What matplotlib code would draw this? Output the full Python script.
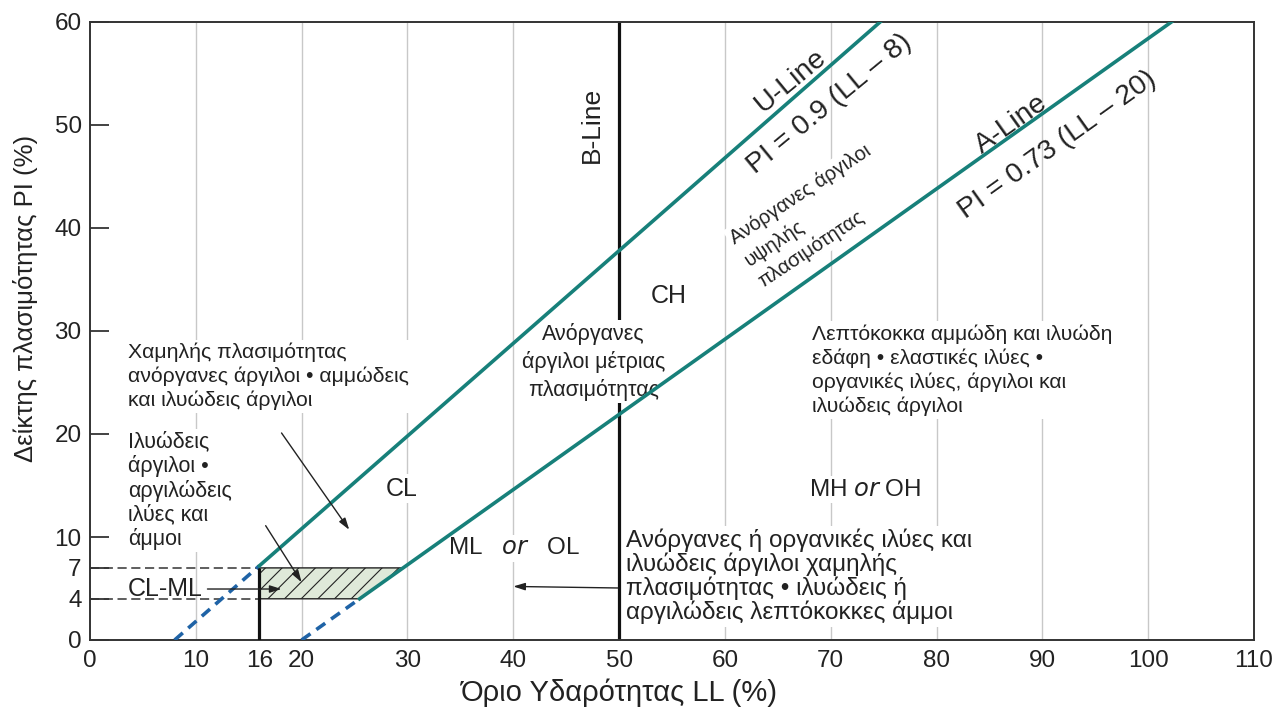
import numpy as np
import matplotlib.pyplot as plt
from matplotlib.patches import Polygon

plt.rcParams['font.family'] = ['Liberation Sans', 'DejaVu Sans']
plt.rcParams['hatch.linewidth'] = 0.8

# chart limits and ticks
ll_max, pi_max = 110, 60
x_ticks = [0, 10, 16, 20, 30, 40, 50, 60, 70, 80, 90, 100, 110]
y_ticks = [0, 4, 7, 10, 20, 30, 40, 50, 60]
grid_ll = [10, 20, 30, 40, 50, 60, 70, 80, 90, 100]

# line definitions: PI = slope * (LL - offset)
u_slope, u_offset = 0.9, 8
a_slope, a_offset = 0.73, 20
b_line_ll = 50
clml_ll = 16
clml_low, clml_high = 4, 7

teal = '#17807a'
blue = '#1f63a6'
ink = '#222222'


def u_pi(ll):
    return u_slope * (np.asarray(ll) - u_offset)


def a_pi(ll):
    return a_slope * (np.asarray(ll) - a_offset)


def a_ll(pi):
    return a_offset + np.asarray(pi) / a_slope


fig = plt.figure(figsize=(12.77, 7.11), dpi=100)
ax = fig.add_axes([90 / 1277, 71 / 711, 1164 / 1277, 618 / 711])
ax.set_xlim(0, ll_max)
ax.set_ylim(0, pi_max)

# light vertical grid
ax.vlines(grid_ll, 0, pi_max, color='#c8c8c8', lw=1, zorder=1)

# B-line
ax.vlines(b_line_ll, 0, pi_max, color='#111111', lw=2.3, zorder=2)

# U-line: dashed below LL=16, solid above
u_top = u_offset + pi_max / u_slope
ax.plot([u_offset, clml_ll], u_pi([u_offset, clml_ll]), color=blue, lw=2.6,
        ls=(0, (3, 2)), zorder=4)
ax.plot([clml_ll, u_top], u_pi([clml_ll, u_top]), color=teal, lw=2.6, zorder=4)

# A-line: dashed below PI=4, solid above
a_top = a_ll(pi_max)
a_4 = a_ll(clml_low)
ax.plot([a_offset, a_4], a_pi([a_offset, a_4]), color=blue, lw=2.6,
        ls=(0, (3, 2)), zorder=4)
ax.plot([a_4, a_top], a_pi([a_4, a_top]), color=teal, lw=2.6, zorder=4)

# CL-ML hatched zone
zone = Polygon([[clml_ll, clml_low], [a_4, clml_low],
                [a_ll(clml_high), clml_high], [clml_ll, clml_high]],
               closed=True, facecolor='#dfe9d9', edgecolor='#222222',
               lw=1.0, hatch='//', zorder=3)
ax.add_patch(zone)
ax.plot([0, clml_ll], [clml_high, clml_high], color='#333333', lw=1.1,
        ls=(0, (6, 3)), zorder=3)
ax.plot([0, clml_ll], [clml_low, clml_low], color='#333333', lw=1.1,
        ls=(0, (6, 3)), zorder=3)
ax.vlines(clml_ll, 0, clml_high, color='#111111', lw=2.3, zorder=4)

# axes styling
for s in ax.spines.values():
    s.set_color('#333333')
    s.set_linewidth(1.4)
ax.set_xticks(x_ticks)
ax.set_yticks(y_ticks)
ax.tick_params(axis='x', length=0, labelsize=17.5, pad=7, colors=ink)
ax.tick_params(axis='y', direction='in', length=14, width=1.2,
               labelsize=17.5, pad=6, colors=ink)
ax.set_xlabel('Όριο Υδαρότητας LL (%)', fontsize=21, color=ink)
ax.xaxis.set_label_coords(0.455, -0.062)
ax.set_ylabel('Δείκτης πλασιμότητας PI (%)', fontsize=18.5, color=ink)
ax.yaxis.set_label_coords(-0.045, 0.553)

box = dict(facecolor='white', edgecolor='none', pad=2)
kw = dict(color=ink, zorder=3, bbox=box)

# line labels
ax.text(47.4, 50.0, 'B-Line', rotation=90, fontsize=19, ha='center',
        va='center', color=ink, zorder=3)
ax.text(66.2, 54.3, 'U-Line', rotation=39.5, fontsize=20.5, ha='center',
        va='center', color=ink, zorder=5)
ax.text(69.9, 52.0, 'PI = 0.9 (LL – 8)', rotation=39.5, fontsize=20.5,
        ha='center', va='center', color=ink, zorder=5)
ax.text(87.1, 50.1, 'A-Line', rotation=35.5, fontsize=20.5, ha='center',
        va='center', color=ink, zorder=5)
ax.text(91.4, 48.1, 'PI = 0.73 (LL – 20)', rotation=35.5, fontsize=20.5,
        ha='center', va='center', color=ink, zorder=5)

# high plasticity clay note, anchored at the start of its last line
ax.text(63.3, 34.7, 'Ανόργανες άργιλοι\nυψηλής\nπλασιμότητας', rotation=33.5,
        rotation_mode='anchor', fontsize=14.5, ha='left', va='baseline',
        multialignment='left', linespacing=1.4, **kw)

# zone labels
ax.text(54.7, 33.4, 'CH', fontsize=18, ha='center', va='center', **kw)
ax.text(47.6, 27.0, 'Ανόργανες\nάργιλοι μέτριας\nπλασιμότητας', fontsize=15.5,
        ha='center', va='center', linespacing=1.34, **kw)
ax.text(68.2, 26.2, 'Λεπτόκοκκα αμμώδη και ιλυώδη\nεδάφη • ελαστικές ιλύες •\n'
        'οργανικές ιλύες, άργιλοι και\nιλυώδεις άργιλοι', fontsize=15.2,
        ha='left', va='center', linespacing=1.3, **kw)
ax.text(3.6, 25.6, 'Χαμηλής πλασιμότητας\nανόργανες άργιλοι • αμμώδεις\n'
        'και ιλυώδεις άργιλοι', fontsize=15.3, ha='left', va='center',
        linespacing=1.29, **kw)
ax.text(3.6, 14.5, 'Ιλυώδεις\nάργιλοι •\nαργιλώδεις\nιλύες και\nάμμοι',
        fontsize=15.5, ha='left', va='center', linespacing=1.15, **kw)
ax.text(29.5, 14.7, 'CL', fontsize=18, ha='center', va='center', **kw)
ax.text(73.3, 14.6, 'MH $\\it{or}$ OH', fontsize=17.5, ha='center',
        va='center', **kw)
ax.text(40.1, 8.9, 'ML   $\\it{or}$   OL', fontsize=17.5, ha='center',
        va='center', **kw)
ax.text(7.1, 4.95, 'CL-ML', fontsize=18, ha='center', va='center',
        color=ink, zorder=3)
ax.text(50.7, 6.2, 'Ανόργανες ή οργανικές ιλύες και\nιλυώδεις άργιλοι χαμηλής\n'
        'πλασιμότητας • ιλυώδεις ή\nαργιλώδεις λεπτόκοκκες άμμοι',
        fontsize=17.5, ha='left', va='center', linespacing=1.03, **kw)

# pointer arrows
arrow = dict(arrowstyle='-|>,head_length=0.7,head_width=0.22',
             color=ink, lw=1.0, shrinkA=0, shrinkB=0)
ax.annotate('', xy=(24.5, 10.7), xytext=(18.1, 20.1), arrowprops=arrow,
            zorder=5)
ax.annotate('', xy=(20.0, 5.6), xytext=(16.6, 11.1), arrowprops=arrow,
            zorder=5)
ax.annotate('', xy=(18.1, 4.95), xytext=(11.1, 4.95), arrowprops=arrow,
            zorder=5)
ax.annotate('', xy=(40.0, 5.2), xytext=(49.9, 5.05), arrowprops=arrow,
            zorder=5)

fig.savefig('out.png', dpi=100)
